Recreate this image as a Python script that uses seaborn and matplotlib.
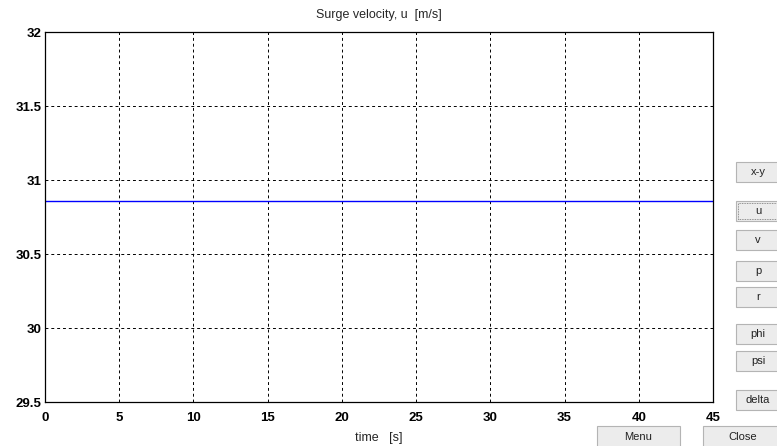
import matplotlib
matplotlib.use("Agg")
import matplotlib.pyplot as plt
from matplotlib.patches import Rectangle
import seaborn as sns
import pandas as pd

# Surge velocity time history (constant speed)
time_s = [0, 45]
surge_u = [30.86, 30.86]

x_ticks = [0, 5, 10, 15, 20, 25, 30, 35, 40, 45]
y_ticks = [29.5, 30, 30.5, 31, 31.5, 32]
y_tick_labels = ["29.5", "30", "30.5", "31", "31.5", "32"]

side_buttons = ["x-y", "u", "v", "p", "r", "phi", "psi", "delta"]
side_centers_px = [172, 211, 240, 271, 297, 334, 361, 400]
bottom_buttons = ["Menu", "Close"]

sns.set_theme(style="white")
plt.rcParams["font.family"] = ["Liberation Sans", "DejaVu Sans"]

W, H = 777, 446
fig = plt.figure(figsize=(W / 100, H / 100), dpi=100)
fig.patch.set_facecolor("white")
ax = fig.add_axes([45 / W, (H - 402) / H, (713 - 45) / W, (402 - 32) / H])

df = pd.DataFrame({"time": time_s, "u": surge_u})
sns.lineplot(data=df, x="time", y="u", ax=ax, color="#0000ff", linewidth=1.0)

ax.set_xlim(0, 45)
ax.set_ylim(29.5, 32)
ax.set_xticks(x_ticks)
ax.set_xticklabels([str(v) for v in x_ticks], fontweight="bold", fontsize=9.5)
ax.set_yticks(y_ticks)
ax.set_yticklabels(y_tick_labels, fontweight="bold", fontsize=9.5)
ax.tick_params(axis="x", direction="in", length=4, width=0.8, colors="black", pad=7)
ax.tick_params(axis="y", direction="in", length=4, width=0.8, colors="black", pad=2.5)
ax.grid(True, color="black", linestyle=(0, (3, 3)), linewidth=0.7)
for s in ax.spines.values():
    s.set_color("black")
    s.set_linewidth(0.9)
ax.set_facecolor("white")

ax.set_xlabel("time   [s]", fontsize=9, labelpad=6)
ax.set_ylabel("")
ax.set_title("Surge velocity, u  [m/s]", fontsize=9, pad=10)


def button(x0, y0, w, h, label, focus=False):
    fig.patches.append(Rectangle((x0 / W, 1 - (y0 + h) / H), w / W, h / H,
                                 transform=fig.transFigure, facecolor="#ececec",
                                 edgecolor="#b4b4b4", linewidth=0.8))
    if focus:
        fig.patches.append(Rectangle(((x0 + 2) / W, 1 - (y0 + h - 2) / H),
                                     (w - 4) / W, (h - 4) / H,
                                     transform=fig.transFigure, facecolor="none",
                                     edgecolor="#707070", linewidth=0.6,
                                     linestyle=(0, (1, 1))))
    fig.text((x0 + w / 2) / W, 1 - (y0 + h / 2) / H, label, ha="center",
             va="center", fontsize=8, color="#222222")


for lab, cy in zip(side_buttons, side_centers_px):
    button(736, cy - 10, 44, 20, lab, focus=(lab == "u"))

button(597, 426, 83, 23, bottom_buttons[0])
button(703, 426, 80, 23, bottom_buttons[1])

fig.savefig("out.png", dpi=100)
